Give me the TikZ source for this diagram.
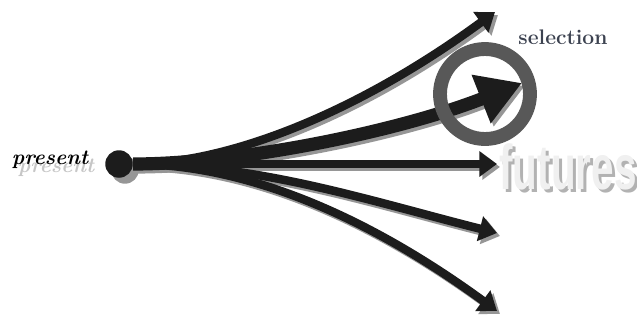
\documentclass[tikz,border=0pt]{standalone}
\usepackage{fontspec}
\newfontfamily\futfont{Liberation Sans}
\usetikzlibrary{arrows.meta,positioning}
\definecolor{arrblack}{RGB}{28,28,28}
\definecolor{shadgray}{RGB}{150,150,150}
\definecolor{ringgray}{RGB}{88,88,88}
\definecolor{selslate}{RGB}{60,66,80}
\tikzset{
  arr/.style={line width=4.8pt, arrblack, -{Triangle[length=10pt, width=14pt]}},
  bigarr/.style={line width=7.5pt, arrblack, -{Triangle[length=25pt, width=28pt]}},
  dropshade/.style={transform canvas={shift={(1.7pt,-1.7pt)}}, shadgray},
  dot/.style={circle, fill=arrblack, minimum width=0.55cm, minimum height=0.5cm, inner sep=0pt},
  ring/.style={circle, draw=ringgray, line width=7.9pt, minimum size=1.8cm, inner sep=0pt},
  sellabel/.style={font=\bfseries\large, text=selslate},
  preslabel/.style={font=\bfseries\itshape\large},
  futlabel/.style={font=\futfont\bfseries\fontsize{36}{36}\selectfont},
}

\begin{document}
\begin{tikzpicture}[x=0.02cm, y=0.02cm]
  \useasboundingbox (0,0) rectangle (637,326);
  % tips of the five futures
  \coordinate (t1) at (495,314);
  \coordinate (t2) at (522,243);
  \coordinate (t3) at (497,162);
  \coordinate (t4) at (497,93);
  \coordinate (t5) at (497,15);
  \node[dot, fill=shadgray, transform canvas={shift={(1.7pt,-1.7pt)}}] (presshade) at (119,162) {};
  \node[dot] (pres) at (119,162) {};
  \node[preslabel, text=gray!45] (presgh) at (56,158) {present};
  \node[preslabel] (presl) at (50,166) {present};
  % shadows
  \draw[arr, dropshade] (pres) .. controls (230,162) and (360,215) .. (t1);
  \draw[bigarr, dropshade] (pres) .. controls (240,162) and (400,195) .. (t2);
  \draw[arr, dropshade] (pres) -- (t3);
  \draw[arr, dropshade] (pres) .. controls (260,162) and (370,125) .. (t4);
  \draw[arr, dropshade] (pres) .. controls (240,162) and (360,115) .. (t5);
  % arrows
  \draw[arr] (pres) .. controls (230,162) and (360,215) .. (t1);
  \draw[bigarr] (pres) .. controls (240,162) and (400,195) .. (t2);
  \draw[arr] (pres) -- (t3);
  \draw[arr] (pres) .. controls (260,162) and (370,125) .. (t4);
  \draw[arr] (pres) .. controls (240,162) and (360,115) .. (t5);
  \node[ring] (ring) at (485,232) {};
  \node[sellabel] (sel) at (563,289) {selection};
  \node[futlabel, text=gray!60] (futshade) at (571,156) {\scalebox{0.64}[1]{futures}};
  \node[futlabel, text=gray!12] (fut) at (568,159) {\scalebox{0.64}[1]{futures}};
\end{tikzpicture}
\end{document}
